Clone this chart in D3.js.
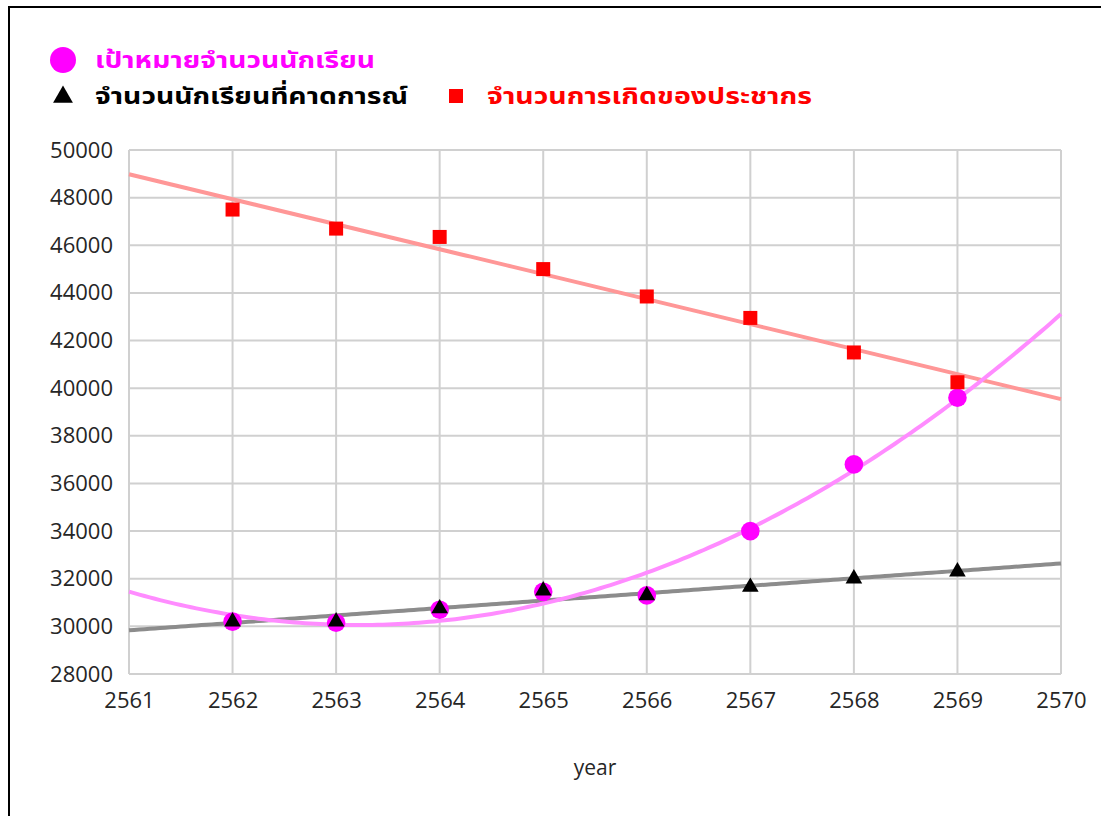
<!DOCTYPE html>
<html>
<head>
<meta charset="utf-8">
<script src="https://cdn.jsdelivr.net/npm/d3@7"></script>
<style>
  html, body { margin: 0; padding: 0; background: #fff; }
  svg { display: block; }
</style>
</head>
<body>
<svg id="chart" width="1101" height="816"></svg>
<script>
// ---- data ----
const years = [2562, 2563, 2564, 2565, 2566, 2567, 2568, 2569];
const targetStudents = [30200, 30150, 30700, 31450, 31300, 34000, 36800, 39600];
const forecastStudents = [30200, 30200, 30750, 31500, 31300, 31650, 32000, 32300];
const births = [47500, 46700, 46350, 45000, 43850, 42950, 41500, 40250];
const xTicks = [2561, 2562, 2563, 2564, 2565, 2566, 2567, 2568, 2569, 2570];
const yTicks = [28000, 30000, 32000, 34000, 36000, 38000, 40000, 42000, 44000, 46000, 48000, 50000];
const seriesNames = ["เป้าหมายจำนวนนักเรียน", "จำนวนนักเรียนที่คาดการณ์", "จำนวนการเกิดของประชากร"];
const xTitle = "year";

// ---- layout ----
const svg = d3.select("#chart");
const pL = 129, pR = 1061, pT = 150, pB = 674;
const x = d3.scaleLinear().domain([2561, 2570]).range([pL, pR]);
const y = d3.scaleLinear().domain([28000, 50000]).range([pB, pT]);
const numFont = "'Open Sans', 'Noto Sans', sans-serif";
const thaiFont = "'Noto Sans Thai', 'Tahoma', 'Leelawadee UI', 'Noto Sans', sans-serif";

// outer frame
svg.append("rect").attr("x", 9).attr("y", 7).attr("width", 1110).attr("height", 830)
  .attr("fill", "none").attr("stroke", "#000").attr("stroke-width", 2);

// grid
const grid = svg.append("g");
grid.selectAll("line.h").data(yTicks).join("line").attr("class", "h")
  .attr("x1", pL).attr("x2", pR).attr("y1", d => y(d)).attr("y2", d => y(d))
  .attr("stroke", "#d0d0d0").attr("stroke-width", 2);
grid.selectAll("line.v").data(xTicks).join("line").attr("class", "v")
  .attr("y1", pT).attr("y2", pB).attr("x1", d => x(d)).attr("x2", d => x(d))
  .attr("stroke", "#d0d0d0").attr("stroke-width", 2);

// axes (labels only)
const yAxis = svg.append("g").attr("transform", `translate(${pL},0)`)
  .call(d3.axisLeft(y).tickValues(yTicks).tickSize(0).tickPadding(16).tickFormat(d3.format("d")));
yAxis.select(".domain").remove();
yAxis.selectAll("text").attr("font-family", numFont).attr("font-size", 22).attr("fill", "#262626");

const xAxis = svg.append("g").attr("transform", `translate(0,${pB})`)
  .call(d3.axisBottom(x).tickValues(xTicks).tickSize(0).tickPadding(18).tickFormat(d3.format("d")));
xAxis.select(".domain").remove();
xAxis.selectAll("text").attr("font-family", numFont).attr("font-size", 22).attr("fill", "#262626");

svg.append("text").attr("x", (pL + pR) / 2).attr("y", 775).attr("text-anchor", "middle")
  .attr("font-family", numFont).attr("font-size", 21).attr("fill", "#262626").text(xTitle);

// ---- least-squares polynomial trendlines ----
function polyfit(xs, ys, deg) {
  const n = deg + 1;
  const A = Array.from({length: n}, () => new Array(n + 1).fill(0));
  const x0 = xs[0];
  for (let k = 0; k < xs.length; k++) {
    const t = xs[k] - x0;
    for (let i = 0; i < n; i++) {
      for (let j = 0; j < n; j++) A[i][j] += Math.pow(t, i + j);
      A[i][n] += ys[k] * Math.pow(t, i);
    }
  }
  for (let i = 0; i < n; i++) {
    let p = i;
    for (let r = i + 1; r < n; r++) if (Math.abs(A[r][i]) > Math.abs(A[p][i])) p = r;
    [A[i], A[p]] = [A[p], A[i]];
    for (let r = 0; r < n; r++) {
      if (r === i) continue;
      const f = A[r][i] / A[i][i];
      for (let c = i; c <= n; c++) A[r][c] -= f * A[i][c];
    }
  }
  const coef = A.map((row, i) => row[n] / row[i]);
  return v => coef.reduce((s, c, i) => s + c * Math.pow(v - x0, i), 0);
}
const trendX = d3.range(2561, 2570.001, 0.05);
const line = d3.line().x(d => x(d[0])).y(d => y(d[1]));
function drawTrend(vals, deg, color) {
  const f = polyfit(years, vals, deg);
  svg.append("path").datum(trendX.map(v => [v, f(v)]))
    .attr("d", line).attr("fill", "none").attr("stroke", color)
    .attr("stroke-width", 4).attr("stroke-linecap", "butt");
}
drawTrend(births, 1, "#ff9797");
drawTrend(forecastStudents, 1, "#8c8c8c");
drawTrend(targetStudents, 2, "#ff8cff");

// ---- markers ----
svg.append("g").selectAll("circle").data(years).join("circle")
  .attr("cx", d => x(d)).attr("cy", (d, i) => y(targetStudents[i])).attr("r", 9.3)
  .attr("fill", "#ff00ff");

const tri = d3.symbol().type(d3.symbolTriangle).size(120);
svg.append("g").selectAll("path").data(years).join("path")
  .attr("transform", (d, i) => `translate(${x(d)},${y(forecastStudents[i])})`)
  .attr("d", tri).attr("fill", "#000");

svg.append("g").selectAll("rect").data(years).join("rect")
  .attr("x", d => x(d) - 7).attr("y", (d, i) => y(births[i]) - 7)
  .attr("width", 14).attr("height", 14).attr("fill", "#ff0000");

// ---- legend ----
const lg = svg.append("g");
function legendText(xp, yp, txt, color, len) {
  lg.append("text").attr("x", xp).attr("y", yp).attr("font-family", thaiFont).attr("font-weight", "bold")
    .attr("font-size", 23).attr("fill", color).attr("textLength", len)
    .attr("lengthAdjust", "spacingAndGlyphs").text(txt);
}
lg.append("circle").attr("cx", 63).attr("cy", 60).attr("r", 13).attr("fill", "#ff00ff");
legendText(95, 68, seriesNames[0], "#ff00ff", 280);
lg.append("path").attr("transform", "translate(63,97)").attr("d", d3.symbol().type(d3.symbolTriangle).size(170))
  .attr("fill", "#000");
legendText(95, 104, seriesNames[1], "#000", 313);
lg.append("rect").attr("x", 449).attr("y", 89).attr("width", 14).attr("height", 14).attr("fill", "#ff0000");
legendText(487, 104, seriesNames[2], "#ff0000", 325);
</script>
</body>
</html>
